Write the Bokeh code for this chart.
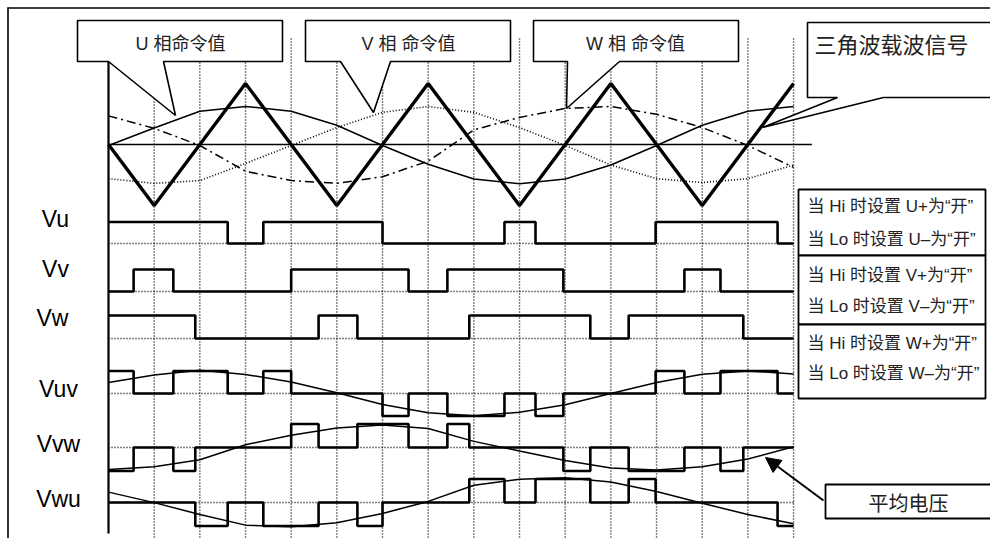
from bokeh.plotting import figure
from bokeh.models import Range1d, Arrow, NormalHead
from bokeh.core.properties import value
from bokeh.embed import file_html
from bokeh.resources import INLINE

# ---------------- data (time in quarter carrier periods) ----------------
t_grid = list(range(16))
carrier = [0, -1, 0, 1, 0, -1, 0, 1, 0, -1, 0, 1, 0, -1, 0, 1]
u_cmd = [0, 0.45, 0.88, 1.0, 0.88, 0.52, 0, -0.48, -0.86, -0.98, -0.86, -0.5, 0, 0.52, 0.88, 1.0]
v_cmd = [-0.85, -0.97, -0.9, -0.46, 0, 0.46, 0.85, 1.0, 0.85, 0.46, 0, -0.5, -0.85, -0.95, -0.85, -0.5]
w_cmd = [0.76, 0.44, 0.0, -0.66, -0.9, -0.97, -0.8, -0.4, 0.4, 0.72, 0.95, 1.0, 0.8, 0.46, 0.0, -0.56]

vu_edges = [0, 2.61, 3.39, 6.0, 8.67, 9.35, 11.98, 14.65, 15]
vu_levels = [1, 0, 1, 0, 1, 0, 1, 0]
vv_edges = [0, 0.55, 1.42, 4.0, 6.57, 7.42, 9.96, 12.61, 13.4, 15]
vv_levels = [0, 1, 0, 1, 0, 1, 0, 1, 0]
vw_edges = [0, 1.9, 4.6, 5.45, 7.9, 10.55, 11.39, 13.9, 15]
vw_levels = [1, 0, 1, 0, 1, 0, 1, 0]

vuv_edges = [0, 0.55, 1.42, 2.61, 3.39, 4.0, 6.0, 6.57, 7.42, 8.67, 9.35, 9.96, 11.98, 12.61, 13.4, 14.65, 15]
vuv_levels = [1, 0, 1, 0, 1, 0, -1, 0, -1, 0, -1, 0, 1, 0, 1, 0]
vvw_edges = [0, 0.55, 1.42, 1.9, 4.0, 4.6, 5.45, 6.57, 7.42, 7.9, 9.96, 10.55, 11.39, 12.61, 13.4, 13.9, 15]
vvw_levels = [-1, 0, -1, 0, 1, 0, 1, 0, 1, 0, -1, 0, -1, 0, -1, 0]
vwu_edges = [0, 1.9, 2.61, 3.39, 4.6, 5.45, 6.0, 7.9, 8.67, 9.35, 10.55, 11.39, 11.98, 14.65, 15]
vwu_levels = [0, -1, 0, -1, 0, -1, 0, 1, 0, 1, 0, 1, 0, -1]

avg_gain = 0.58  # average line-to-line voltage per unit command difference

row_labels = ["Vu", "Vv", "Vw", "Vuv", "Vvw", "Vwu"]
cmd_labels = ["U 相命令值", "V 相 命令值", "W 相 命令值"]
carrier_label = "三角波载波信号"
switch_labels = ["当 Hi 时设置 U+为“开”", "当 Lo 时设置 U–为“开”",
                 "当 Hi 时设置 V+为“开”", "当 Lo 时设置 V–为“开”",
                 "当 Hi 时设置 W+为“开”", "当 Lo 时设置 W–为“开”"]
avg_label = "平均电压"

# ---------------- layout ----------------
W, H = 990, 538
X0, Y0 = 0, 0
T0_PX, T_STEP = 108, 45.67

p = figure(width=W, height=H, output_backend="svg", toolbar_location=None,
           x_axis_type=None, y_axis_type=None,
           x_range=Range1d(X0, X0 + W), y_range=Range1d(Y0 + H, Y0),
           min_border=0, outline_line_color=None, background_fill_color="white")
p.xgrid.visible = False
p.ygrid.visible = False

def yr(base, amp):
    return Range1d(-(Y0 + H - base) / amp, (base - Y0) / amp)

p.extra_x_ranges = {"t": Range1d(-(T0_PX - X0) / T_STEP, (X0 + W - T0_PX) / T_STEP)}
p.extra_y_ranges = {
    "car": yr(144, 61), "cmd": yr(145, 39),
    "vu": yr(243, 21.5), "vv": yr(291, 22), "vw": yr(338, 23),
    "vuv": yr(393, 22.5), "vvw": yr(447, 23.5), "vwu": yr(502, 23.5),
}

# frame
p.segment(x0=[7, 7.5], y0=[7.5, 7], x1=[X0 + W, 7.5], y1=[7.5, Y0 + H],
          line_color="black", line_width=1.6)

# vertical dotted grid at each quarter period
grid_t = t_grid[1:]
p.segment(x0=grid_t, x1=grid_t, y0=[38] * len(grid_t), y1=[537] * len(grid_t),
          x_range_name="t", line_color="black", line_dash="1 2", line_width=1.4)

# zero/baseline dotted lines of the switching traces
for rng in ["vu", "vv", "vw", "vuv", "vvw", "vwu"]:
    p.line([t_grid[0], t_grid[-1]], [0, 0], x_range_name="t", y_range_name=rng,
           line_color="black", line_dash="1 2", line_width=1.4)

# callout boxes (white, covering grid)
callouts = [
    ([77, 282, 282, 163, 175, 108, 77], [20, 20, 61, 61, 115, 61, 61]),
    ([305, 510, 510, 390, 373, 340, 305], [20, 20, 61, 61, 112, 61, 61]),
    ([533, 738, 738, 619, 566, 567, 533], [20, 20, 61, 61, 108, 61, 61]),
    ([807, 1000, 1000, 883, 762, 837, 807], [22, 22, 97, 97, 127, 97, 97]),
]
for xs, ys in callouts:
    p.patch(xs, ys, fill_color="white", line_color="black", line_width=1.6)

# main vertical axis
p.segment(x0=[0], x1=[0], y0=[61], y1=[533], x_range_name="t", line_color="black", line_width=2.2)

# top panel: centre line, commands, carrier
p.line([0, 15.4], [0, 0], x_range_name="t", y_range_name="car", line_color="black", line_width=1.5)
p.line(t_grid, u_cmd, x_range_name="t", y_range_name="cmd", line_color="black", line_width=1.5)
p.line(t_grid, v_cmd, x_range_name="t", y_range_name="cmd", line_color="black", line_width=1.6, line_dash="1 2")
p.line(t_grid, w_cmd, x_range_name="t", y_range_name="cmd", line_color="black", line_width=1.5, line_dash="9 4 2 4")
p.line(t_grid, carrier, x_range_name="t", y_range_name="car", line_color="black", line_width=3.4)

# switching waveforms
traces = [("vu", vu_edges, vu_levels), ("vv", vv_edges, vv_levels), ("vw", vw_edges, vw_levels),
          ("vuv", vuv_edges, vuv_levels), ("vvw", vvw_edges, vvw_levels), ("vwu", vwu_edges, vwu_levels)]
for rng, e, lv in traces:
    p.step(e, lv + [lv[-1]], mode="after", x_range_name="t", y_range_name=rng,
           line_color="black", line_width=2.6)

# average voltages
avg_uv = [avg_gain * (a - b) for a, b in zip(u_cmd, v_cmd)]
avg_vw = [avg_gain * (a - b) for a, b in zip(v_cmd, w_cmd)]
avg_wu = [avg_gain * (a - b) for a, b in zip(w_cmd, u_cmd)]
for rng, vals in [("vuv", avg_uv), ("vvw", avg_vw), ("vwu", avg_wu)]:
    p.line(t_grid, vals, x_range_name="t", y_range_name=rng, line_color="black", line_width=1.5)

# right-side boxes
for top, bot in [(189, 255), (255, 324), (324, 398)]:
    p.quad(left=[798], right=[985], top=[top], bottom=[bot], fill_color="white",
           line_color="black", line_width=1.8)
p.quad(left=[825], right=[1000], top=[484], bottom=[518], fill_color="white",
       line_color="black", line_width=1.8)

# arrow to average voltage
p.add_layout(Arrow(end=NormalHead(size=15, fill_color="black", line_color="black"),
                   x_start=823, y_start=500, x_end=765, y_end=457,
                   line_color="black", line_width=2))

# texts
mixed = value("'Liberation Sans', 'Noto Sans CJK SC'")
p.text(x=[55, 55, 52, 58, 58, 58], y=[218, 268, 317, 388, 443, 498], text=row_labels,
       text_font=value("Liberation Sans"), text_font_size="23px",
       text_align="center", text_baseline="middle", text_color="black")
p.text(x=[180, 408, 635], y=[43, 43, 43], text=cmd_labels, text_font=mixed,
       text_font_size="18px", text_align="center", text_baseline="middle", text_color="#222222")
p.text(x=[814], y=[42], text=[carrier_label], text_font=value("Noto Sans CJK SC"),
       text_font_size="22px", text_align="left", text_baseline="middle", text_color="#222222")
p.text(x=[807] * 6, y=[206, 239, 275, 306, 343, 373], text=switch_labels, text_font=mixed,
       text_font_size="17px", text_align="left", text_baseline="middle", text_color="#222222")
p.text(x=[908], y=[502], text=[avg_label], text_font=value("Noto Sans CJK SC"),
       text_font_size="20px", text_align="center", text_baseline="middle", text_color="#222222")

open("out.html", "w").write(file_html(p, INLINE))
